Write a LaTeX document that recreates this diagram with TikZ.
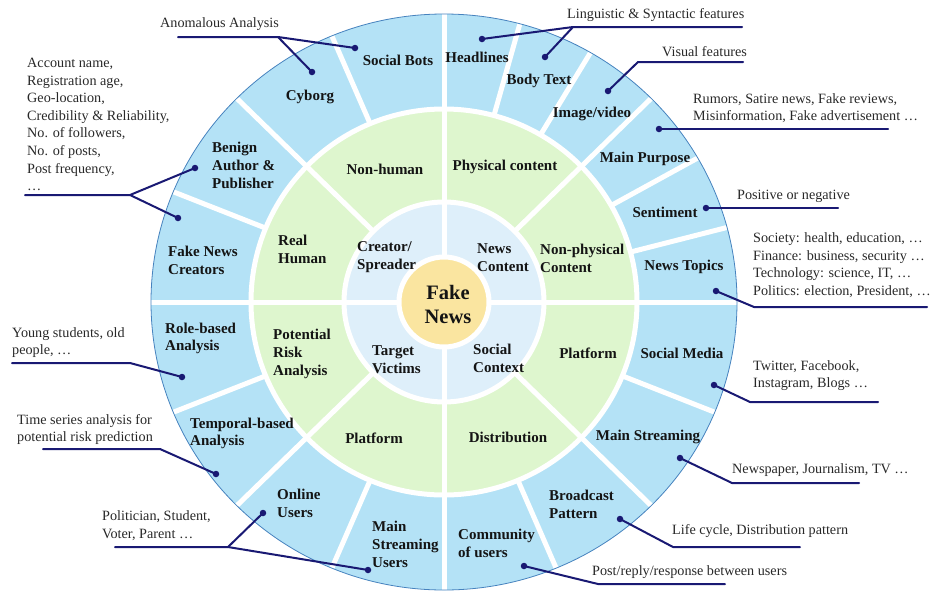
\documentclass[tikz,border=0pt]{standalone}
\usepackage{fontspec}
\setmainfont{Liberation Serif}
\definecolor{ringout}{RGB}{180,226,246}
\definecolor{ringmid}{RGB}{222,246,206}
\definecolor{ringin}{RGB}{222,239,250}
\definecolor{corefill}{RGB}{250,229,160}
\definecolor{rimline}{RGB}{70,130,190}
\definecolor{navyline}{RGB}{25,25,115}
\definecolor{labtext}{RGB}{20,20,20}
\definecolor{anntext}{RGB}{40,40,40}
\newcommand\mylabfont{\bfseries\fontsize{15}{17.8}\selectfont}
\newcommand\myannfont{\fontsize{14.2}{17.6}\selectfont}
\begin{document}
\begin{tikzpicture}[x=1pt,y=-1pt,
  sep/.style={draw=white,line width=5pt},
  lab/.style={font=\mylabfont,text=labtext,align=left,inner sep=0pt},
  labw/.style={lab,anchor=west},
  ann/.style={font=\myannfont,text=anntext,align=left,inner sep=0pt,anchor=west},
  conn/.style={draw=navyline,line width=2pt,line join=round,line cap=round},
  pin/.style={circle,fill=navyline,inner sep=0pt,minimum size=6.5pt}]
\useasboundingbox (0,0) rectangle (932,595);

% rings
\fill[ringout] (444,302) ellipse [x radius=293, y radius=288];
\fill[ringmid] (444,302) circle [radius=193];
\fill[ringin] (444,302) circle [radius=100];
\fill[corefill] (444,302) circle [radius=45];

% white ring separators
\draw[sep] (444,302) circle [radius=193];
\draw[sep] (444,302) circle [radius=100];
\draw[sep] (444,302) circle [radius=45];

% radial separators: angle / inner radius
\foreach \a/\r in {0/45,90/45,180/45,270/45,
                   45/100,135/100,225/100,315/100,
                   15/193,30/193,60/193,75/193,112.5/193,157.5/193,
                   202.5/193,247.5/193,292.5/193,337.5/193}{
  \draw[sep] ({444+\r*cos(\a)},{302-\r*sin(\a)}) -- ({444+293*cos(\a)},{302-288*sin(\a)});
}
\draw[rimline,line width=0.8pt] (444,302) ellipse [x radius=293, y radius=288];

% centre
\node[lab,align=center,font=\bfseries\fontsize{20.5}{24}\selectfont] (core) at (448,304) {Fake\\News};

% inner ring
\node[labw] (creator) at (357,257) {Creator/\\Spreader};
\node[labw] (newscontent) at (477,258) {News\\Content};
\node[labw] (target) at (372,359.5) {Target\\Victims};
\node[labw] (social) at (473,358) {Social\\Context};

% middle ring
\node[lab] (nonhuman) at (385,169) {Non-human};
\node[labw] (realhuman) at (278,249.5) {Real\\Human};
\node[lab] (physical) at (505,167) {Physical content};
\node[labw] (nonphysical) at (540,258) {Non-physical\\Content};
\node[labw] (risk) at (273,354) {Potential\\Risk\\Analysis};
\node[lab] (platformL) at (374,438) {Platform};
\node[lab] (platformR) at (588,353) {Platform};
\node[lab] (distribution) at (508,437) {Distribution};

% outer ring
\node[lab] (bots) at (398,60) {Social Bots};
\node[lab] (cyborg) at (310,97) {Cyborg};
\node[labw] (benign) at (212,165.5) {Benign\\Author \&\\Publisher};
\node[labw] (creators) at (168,260.5) {Fake News\\Creators};
\node[lab] (headlines) at (477,57) {Headlines};
\node[lab] (bodytext) at (539,81) {Body Text};
\node[lab] (image) at (592,114) {Image/video};
\node[lab] (purpose) at (645,159) {Main Purpose};
\node[lab] (sentiment) at (665,212) {Sentiment};
\node[lab] (topics) at (684,267) {News Topics};
\node[labw] (role) at (165,338.5) {Role-based\\Analysis};
\node[labw] (temporal) at (190,433.5) {Temporal-based\\Analysis};
\node[labw] (online) at (277,503.5) {Online\\Users};
\node[labw] (msusers) at (372,544.5) {Main\\Streaming\\Users};
\node[labw] (community) at (458,543.5) {Community\\of users};
\node[labw] (broadcast) at (549,504.5) {Broadcast\\Pattern};
\node[lab] (mainstream) at (648,437) {Main Streaming};
\node[lab] (socialmedia) at (682,353) {Social Media};

% annotations
\node[ann] (t-anom) at (160,24) {Anomalous Analysis};
\node[ann] (t-account) at (27,124.5) {Account name,\\Registration age,\\Geo-location,\\Credibility \& Reliability,\\No. of followers,\\No. of posts,\\Post frequency,\\\dots};
\node[ann] (t-ling) at (567,15) {Linguistic \& Syntactic features};
\node[ann] (t-visual) at (662,52) {Visual features};
\node[ann,font=\fontsize{14.2}{16.5}\selectfont] (t-rumors) at (693,108) {Rumors, Satire news, Fake reviews,\\Misinformation, Fake advertisement \dots};
\node[ann] (t-pos) at (737,196) {Positive or negative};
\node[ann] (t-topics) at (753,265) {Society: health, education, \dots\\Finance: business, security \dots\\Technology: science, IT, \dots\\Politics: election, President, \dots};
\node[ann] (t-twitter) at (753,375.5) {Twitter, Facebook,\\Instagram, Blogs \dots};
\node[ann] (t-news) at (732,470) {Newspaper, Journalism, TV \dots};
\node[ann] (t-life) at (672,531) {Life cycle, Distribution pattern};
\node[ann] (t-post) at (592,572) {Post/reply/response between users};
\node[ann] (t-young) at (12,342.5) {Young students, old\\people, \dots};
\node[ann] (t-time) at (17,429.5) {Time series analysis for\\potential risk prediction};
\node[ann] (t-polit) at (102,525.5) {Politician, Student,\\Voter, Parent \dots};

% pins inside the ring
\node[pin] (p-bots) at (355,48) {};
\node[pin] (p-cyborg) at (312,72) {};
\node[pin] (p-benign) at (195,168) {};
\node[pin] (p-creators) at (178,218) {};
\node[pin] (p-headlines) at (482,39) {};
\node[pin] (p-body) at (545,57) {};
\node[pin] (p-image) at (608,91) {};
\node[pin] (p-purpose) at (659,129) {};
\node[pin] (p-sentiment) at (706,208) {};
\node[pin] (p-topics) at (716,291) {};
\node[pin] (p-socialmedia) at (714,385) {};
\node[pin] (p-mainstream) at (680,458) {};
\node[pin] (p-broadcast) at (620,519) {};
\node[pin] (p-community) at (524,566) {};
\node[pin] (p-role) at (182,377) {};
\node[pin] (p-temporal) at (216,474) {};
\node[pin] (p-online) at (263,513) {};
\node[pin] (p-msusers) at (368,570) {};

% underline ends and elbows
\coordinate (u-anom) at (178,37);   \coordinate (j-anom) at (278,37);
\coordinate (u-account) at (25,195); \coordinate (j-account) at (130,195);
\coordinate (u-ling) at (742,27);   \coordinate (j-ling) at (573,27);
\coordinate (u-visual) at (743,62); \coordinate (j-visual) at (638,62);
\coordinate (u-rumors) at (888,129);
\coordinate (u-pos) at (838,208);
\coordinate (u-topics) at (927,307); \coordinate (j-topics) at (754,307);
\coordinate (u-twitter) at (878,402); \coordinate (j-twitter) at (750,402);
\coordinate (u-news) at (859,483);  \coordinate (j-news) at (732,483);
\coordinate (u-life) at (800,547);  \coordinate (j-life) at (673,547);
\coordinate (u-post) at (725,584);  \coordinate (j-post) at (598,584);
\coordinate (u-young) at (12,363);  \coordinate (j-young) at (130,363);
\coordinate (u-time) at (43,449);   \coordinate (j-time) at (160,449);
\coordinate (u-polit) at (115,547); \coordinate (j-polit) at (228,547);

% connectors
\draw[conn] (u-anom) -- (j-anom) -- (p-bots.center);
\draw[conn] (j-anom) -- (p-cyborg.center);
\draw[conn] (u-account) -- (j-account) -- (p-benign.center);
\draw[conn] (j-account) -- (p-creators.center);
\draw[conn] (u-ling) -- (j-ling) -- (p-headlines.center);
\draw[conn] (j-ling) -- (p-body.center);
\draw[conn] (u-visual) -- (j-visual) -- (p-image.center);
\draw[conn] (u-rumors) -- (p-purpose.center);
\draw[conn] (u-pos) -- (p-sentiment.center);
\draw[conn] (u-topics) -- (j-topics) -- (p-topics.center);
\draw[conn] (u-twitter) -- (j-twitter) -- (p-socialmedia.center);
\draw[conn] (u-news) -- (j-news) -- (p-mainstream.center);
\draw[conn] (u-life) -- (j-life) -- (p-broadcast.center);
\draw[conn] (u-post) -- (j-post) -- (p-community.center);
\draw[conn] (u-young) -- (j-young) -- (p-role.center);
\draw[conn] (u-time) -- (j-time) -- (p-temporal.center);
\draw[conn] (u-polit) -- (j-polit) -- (p-online.center);
\draw[conn] (j-polit) -- (p-msusers.center);
\end{tikzpicture}
\end{document}
